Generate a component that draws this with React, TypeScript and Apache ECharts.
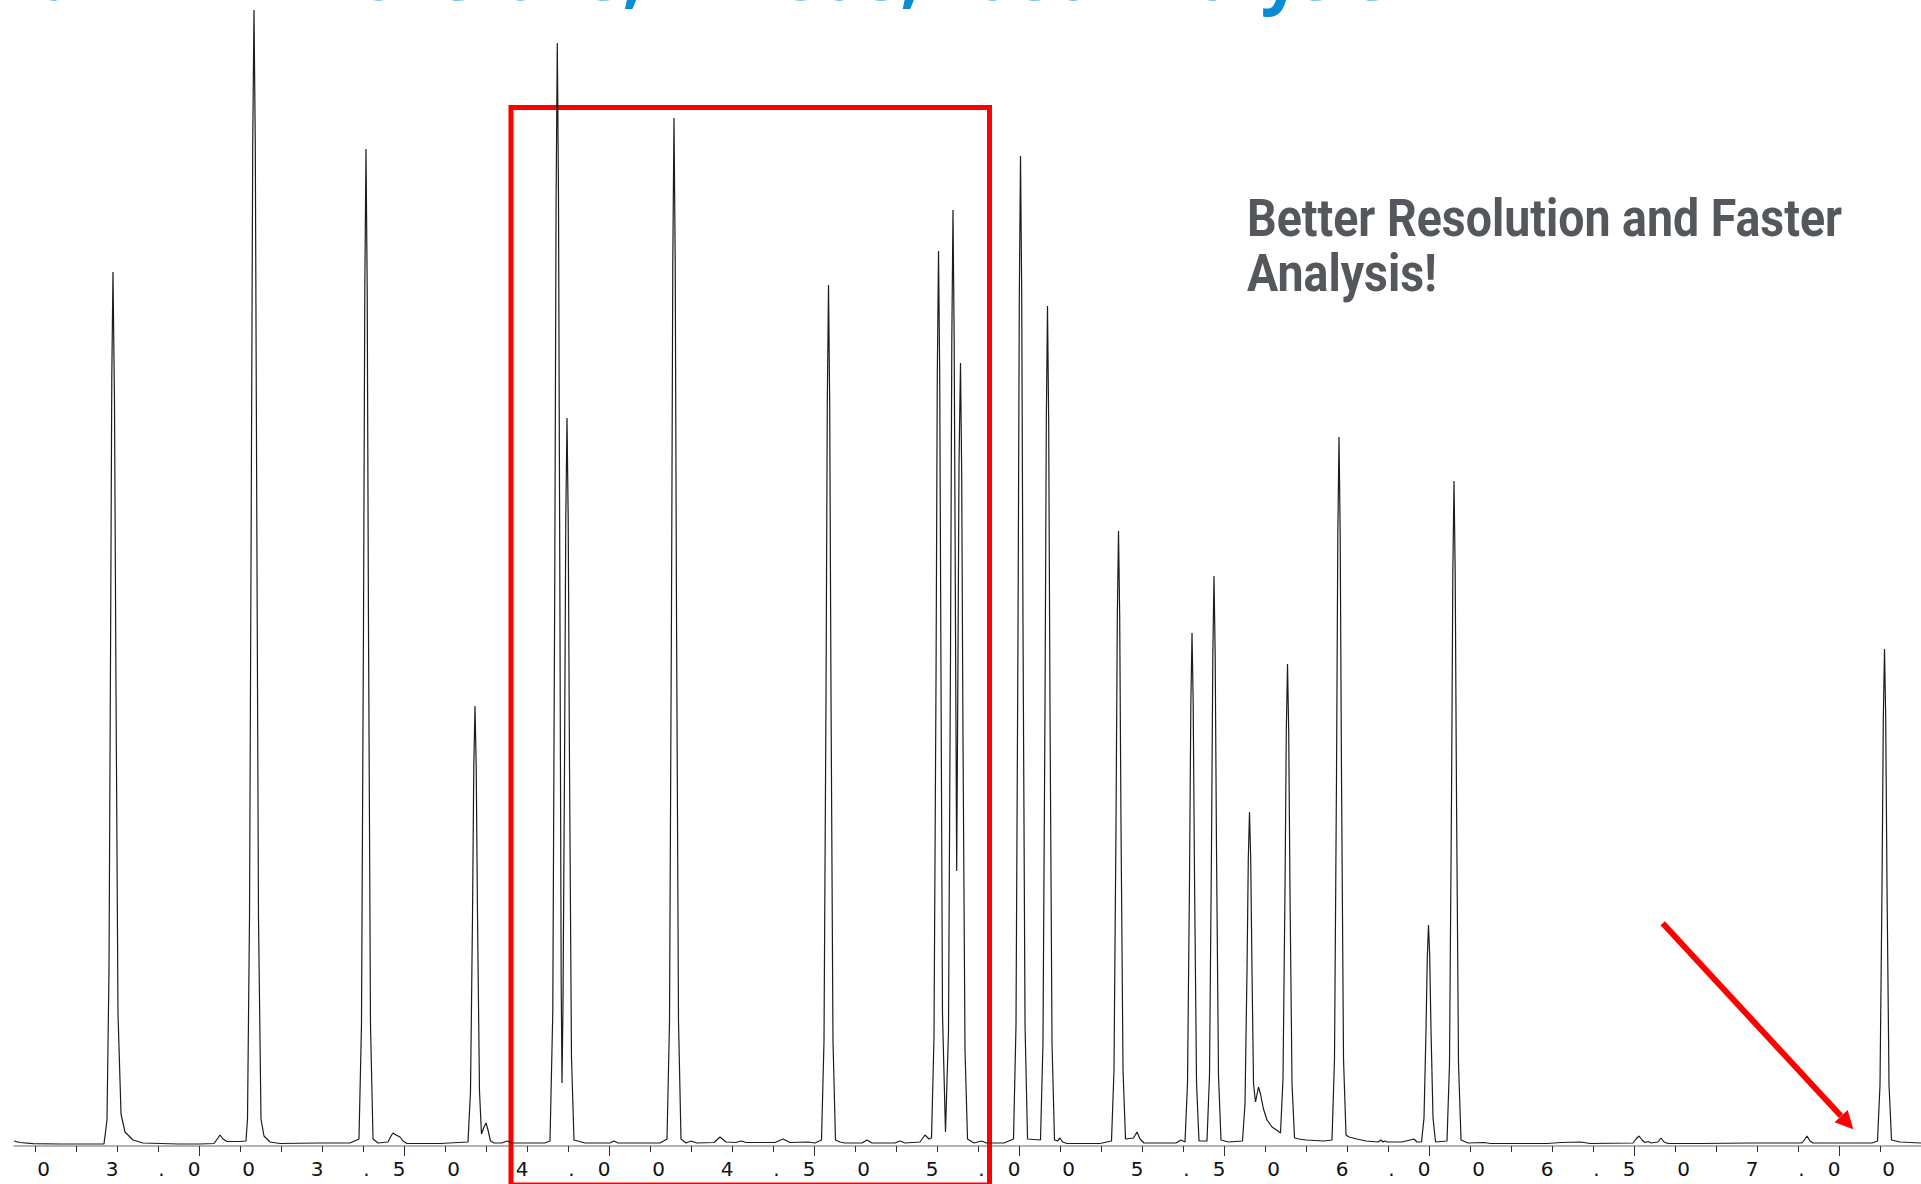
import { useEffect, useRef } from "react";
import * as echarts from "echarts";

// FID trace: [retention time (min), signal (counts above baseline)]
const trace: [number, number][] = [
  [2.5488, 3], [2.5634, 1.5], [2.5951, 0.3], [2.661, 0], [2.7341, 0],
  // peak 1
  [2.7683, 0], [2.7756, 24], [2.7805, 174], [2.7841, 480], [2.7873, 767], [2.7902, 872],
  [2.7939, 741], [2.7976, 453], [2.8024, 131], [2.8098, 30], [2.8195, 12], [2.839, 4], [2.8634, 1],
  [2.95, 0], [3.0024, 0],
  [3.0366, 0.5], [3.0463, 6], [3.0512, 9], [3.0585, 5], [3.0683, 2.5], [3.1, 2.5],
  // peak 2
  [3.1146, 3], [3.1183, 25], [3.1232, 227], [3.1273, 624], [3.131, 998], [3.1341, 1134],
  [3.1373, 998], [3.141, 624], [3.1451, 227], [3.1512, 25], [3.1585, 8], [3.1732, 2], [3.1976, 0.5],
  [3.2951, 1], [3.3683, 1],
  // peak 3
  [3.3902, 5], [3.3963, 119], [3.4012, 517], [3.4044, 856], [3.4073, 995], [3.4102, 856],
  [3.4134, 517], [3.4183, 119], [3.4244, 5],
  [3.4366, 1], [3.461, 2], [3.4683, 8], [3.4732, 11], [3.4805, 9], [3.4902, 7], [3.4976, 3],
  [3.5073, 0.5], [3.5878, 0.5],
  // peak 4
  [3.6561, 2], [3.6622, 53], [3.6671, 228], [3.6702, 377], [3.6732, 438], [3.6761, 377],
  [3.6793, 228], [3.6841, 53], [3.689, 10], [3.6951, 17], [3.7, 21], [3.7049, 14], [3.711, 3],
  [3.7195, 1], [3.739, 1], [3.7512, 3], [3.7634, 1], [3.8073, 1], [3.8439, 1],
  // peaks 5 / 6
  [3.8561, 3], [3.8629, 132], [3.8678, 573], [3.871, 947], [3.8739, 1101], [3.8768, 947],
  [3.88, 573], [3.8834, 160], [3.8854, 61], [3.8878, 140], [3.8915, 379], [3.8946, 624],
  [3.8976, 726], [3.9005, 624], [3.9037, 377], [3.9085, 87], [3.9146, 4],
  [3.9415, 1], [3.978, 1], [4.0024, 1], [4.0122, 3], [4.022, 1], [4.1244, 1],
  // peak 7
  [4.1415, 5], [4.1476, 123], [4.1524, 534], [4.1556, 882], [4.1585, 1026], [4.1615, 882],
  [4.1646, 534], [4.1695, 123], [4.1756, 5],
  [4.1878, 1], [4.2, 3], [4.2146, 1], [4.2561, 1.5], [4.2707, 7], [4.2854, 2], [4.3098, 1.5],
  [4.322, 3], [4.3341, 1.5], [4.4049, 1.5], [4.4244, 5], [4.4415, 1.5], [4.4854, 2], [4.5024, 1],
  // peak 8
  [4.5183, 4], [4.5244, 103], [4.5293, 447], [4.5324, 739], [4.5354, 859], [4.5383, 739],
  [4.5415, 447], [4.5463, 103], [4.5524, 4],
  [4.5634, 2], [4.5756, 1], [4.6171, 1], [4.6293, 4], [4.6415, 1], [4.6976, 1], [4.7098, 3],
  [4.722, 1], [4.7585, 2], [4.7707, 9], [4.7805, 5],
  // peak 9
  [4.7866, 6], [4.7927, 107], [4.7976, 464], [4.8007, 768], [4.8037, 893], [4.8066, 768],
  [4.8098, 464], [4.8134, 130], [4.8207, 12],
  // peaks 10 / 11
  [4.828, 112], [4.8329, 486], [4.8361, 803], [4.839, 934], [4.8419, 803], [4.8451, 520],
  [4.848, 273], [4.8507, 450], [4.8537, 680], [4.8573, 781], [4.8602, 672], [4.8634, 406],
  [4.8683, 94], [4.8744, 5],
  [4.8902, 1], [4.9085, 3], [4.9207, 1], [4.9634, 1],
  // peak 12
  [4.9866, 5], [4.9927, 119], [4.9976, 514], [5.0008, 850], [5.0037, 988], [5.0066, 850],
  [5.0098, 514], [5.0147, 119], [5.0208, 5],
  // peak 13
  [5.0524, 4], [5.0585, 101], [5.0634, 436], [5.0666, 721], [5.0695, 838], [5.0724, 721],
  [5.0756, 436], [5.0805, 101], [5.0866, 4],
  [5.0939, 3], [5.1, 6], [5.1061, 2], [5.1171, 0.5], [5.1976, 0.5],
  // peak 14
  [5.2256, 3], [5.2317, 74], [5.2366, 319], [5.2398, 527], [5.2427, 613], [5.2456, 527],
  [5.2488, 319], [5.2537, 74], [5.2598, 5],
  [5.2793, 6], [5.2878, 12], [5.2951, 5], [5.3049, 1], [5.3829, 1], [5.3951, 4],
  // peak 15
  [5.4049, 2], [5.411, 61], [5.4159, 266], [5.4191, 439], [5.422, 511], [5.4249, 439],
  [5.4281, 266], [5.433, 61], [5.439, 3],
  // peak 16
  [5.4585, 3], [5.4646, 68], [5.4695, 295], [5.4727, 488], [5.4756, 568], [5.4785, 488],
  [5.4817, 295], [5.4866, 68], [5.4927, 4],
  [5.51, 2],
  // peak 17 with tailing shoulder
  [5.5451, 3], [5.5512, 40], [5.5561, 173], [5.5593, 286], [5.5622, 332], [5.5651, 286],
  [5.5683, 173], [5.572, 60], [5.5768, 42], [5.5841, 57], [5.589, 50], [5.5963, 35],
  [5.6049, 24], [5.6171, 17], [5.6317, 13], [5.6378, 11],
  // peak 19
  [5.6439, 65], [5.6488, 255], [5.652, 415], [5.6549, 480], [5.6578, 413], [5.661, 250],
  [5.6659, 60], [5.672, 6],
  [5.6829, 5], [5.7, 4], [5.7439, 3],
  // peak 20
  [5.7634, 4], [5.7695, 85], [5.7744, 368], [5.7776, 608], [5.7805, 707], [5.7834, 608],
  [5.7866, 368], [5.7915, 85], [5.7976, 9],
  [5.8049, 7], [5.8244, 5], [5.8463, 3], [5.8756, 2], [5.8829, 4], [5.8878, 2], [5.8927, 3],
  [5.8976, 2], [5.9341, 2], [5.9634, 5], [5.9707, 2],
  // peak 21
  [5.9817, 2], [5.9878, 26], [5.9927, 114], [5.9959, 188], [5.9988, 219], [6.0017, 188],
  [6.0049, 114], [6.0098, 26], [6.0159, 2],
  // peak 22
  [6.0439, 3], [6.05, 80], [6.0549, 345], [6.0581, 570], [6.061, 663], [6.0639, 570],
  [6.0671, 345], [6.072, 80], [6.0781, 4],
  [6.0951, 1], [6.1341, 1.5], [6.15, 0.5], [6.2878, 0.5], [6.322, 1.5], [6.3707, 2], [6.3927, 0.5],
  [6.4976, 1], [6.5049, 5], [6.5122, 8], [6.5195, 4], [6.5268, 1.5], [6.5341, 2.5], [6.5415, 1],
  [6.5585, 2], [6.5659, 6], [6.5732, 2], [6.5829, 0.5],
  [6.661, 0.5], [6.7829, 1], [6.9098, 1], [6.9171, 5], [6.922, 8], [6.9293, 3], [6.9366, 1],
  [7.0268, 1], [7.0805, 1],
  // peak 23
  [7.0939, 3], [7.1, 59], [7.1049, 257], [7.1081, 426], [7.111, 495], [7.1139, 426],
  [7.1171, 257], [7.122, 59], [7.1281, 4], [7.1488, 2], [7.2, 1],
];

// Time axis (min)
const timeMin = 2.5;
const timeMax = 7.5;
const majorStep = 0.5;
const minorPerMajor = 5;

// Signal axis
const signalMin = -2;
const signalMax = 1144;

const titleParts = ["Column Dimensions, ", "H2", " Gas, Fast Analysis"];
const calloutLines = ["Better Resolution and Faster", "Analysis!"];

const BLUE = "#0a8bd6";
const TITLE_RED = "#f04a3c";
const RED = "#ff0000";
const INK = "#1c1c1c";

const tickFont = { fontFamily: "DejaVu Sans", fontSize: 20, color: "#111111", align: "center" as const };

export default function App() {
  const ref = useRef<HTMLDivElement>(null);

  useEffect(() => {
    const el = ref.current;
    if (!el) return;
    const chart = echarts.init(el, null, { renderer: "svg" });

    const option: any = {
      animation: false,
      backgroundColor: "#ffffff",
      grid: [
        { left: -6, right: -123, top: 0, bottom: 38, containLabel: false, outerBoundsMode: "none" },
        { left: 14, right: 0, bottom: 38, height: 20, containLabel: false, outerBoundsMode: "none" },
      ],
      xAxis: [
        {
          type: "value",
          gridIndex: 0,
          min: timeMin,
          max: timeMax,
          interval: majorStep,
          axisLine: { show: false, onZero: false },
          splitLine: { show: false },
          axisTick: { show: true, length: 10, lineStyle: { color: "#333", width: 1 } },
          minorTick: { show: true, splitNumber: minorPerMajor, length: 6, lineStyle: { color: "#333", width: 1 } },
          minorSplitLine: { show: false },
          axisLabel: {
            show: true,
            interval: 0,
            margin: 13,
            hideOverlap: false,
            showMinLabel: true,
            showMaxLabel: true,
            formatter: (v: number) => {
              const s = v.toFixed(2);
              return `{a|${s[0]}}{g1| }{p|${s[1]}}{b|${s[2]}}{g2| }{c|${s[3]}}{g3| }`;
            },
            rich: {
              a: { ...tickFont, width: 14 },
              g1: { ...tickFont, width: 20 },
              p: { ...tickFont, width: 45 },
              b: { ...tickFont, width: 20 },
              g2: { ...tickFont, width: 23 },
              c: { ...tickFont, width: 43 },
              g3: { ...tickFont, width: 23 },
            },
          },
        },
        {
          type: "value",
          gridIndex: 1,
          min: 0,
          max: 1,
          axisLine: { show: true, onZero: false, lineStyle: { color: "#9a9a9a", width: 1.5 } },
          axisTick: { show: false },
          axisLabel: { show: false },
          splitLine: { show: false },
        },
      ],
      yAxis: [
        { type: "value", gridIndex: 0, min: signalMin, max: signalMax, show: false },
        { type: "value", gridIndex: 1, show: false },
      ],
      series: [
        {
          type: "line",
          xAxisIndex: 0,
          yAxisIndex: 0,
          data: trace,
          showSymbol: false,
          symbol: "none",
          silent: true,
          z: 3,
          lineStyle: { color: INK, width: 1.2 },
        },
      ],
      graphic: [
        {
          type: "text",
          x: -75,
          y: 8,
          z: 5,
          style: {
            text: `{b|${titleParts[0]}}{r|${titleParts[1]}}{b|${titleParts[2]}}`,
            fontSize: 70,
            fontFamily: "Open Sans",
            fontWeight: "bold",
            verticalAlign: "bottom",
            align: "left",
            rich: {
              b: { fill: BLUE, fontSize: 70, fontFamily: "Open Sans", fontWeight: "bold" },
              r: { fill: TITLE_RED, fontSize: 70, fontFamily: "Open Sans", fontWeight: "bold" },
            },
          },
        },
        {
          type: "rect",
          z: 1,
          shape: { x: 511, y: 107.5, width: 478.5, height: 1077.5 },
          style: { fill: "transparent", stroke: RED, lineWidth: 5 },
        },
        {
          type: "text",
          x: 1247,
          y: 192,
          scaleX: 0.894,
          z: 5,
          style: {
            text: calloutLines[0],
            fontSize: 52,
            fontFamily: "Roboto",
            fontWeight: "bold",
            fill: "#54575b",
            verticalAlign: "top",
            align: "left",
          },
        },
        {
          type: "text",
          x: 1247,
          y: 247,
          scaleX: 0.894,
          z: 5,
          style: {
            text: calloutLines[1],
            fontSize: 52,
            fontFamily: "Roboto",
            fontWeight: "bold",
            fill: "#54575b",
            verticalAlign: "top",
            align: "left",
          },
        },
        {
          type: "line",
          z: 10,
          shape: { x1: 1662.7, y1: 923.3, x2: 1841, y2: 1116 },
          style: { stroke: RED, lineWidth: 6 },
        },
        {
          type: "polygon",
          z: 10,
          shape: { points: [[1853.3, 1129.3], [1834.5, 1122.2], [1847.7, 1110]] },
          style: { fill: RED },
        },
      ],
    };

    chart.setOption(option);
    return () => chart.dispose();
  }, []);

  return (
    <div
      ref={ref}
      style={{
        position: "fixed",
        left: 0,
        top: 0,
        width: 1921,
        height: 1184,
        background: "#fff",
        overflow: "hidden",
      }}
    />
  );
}
